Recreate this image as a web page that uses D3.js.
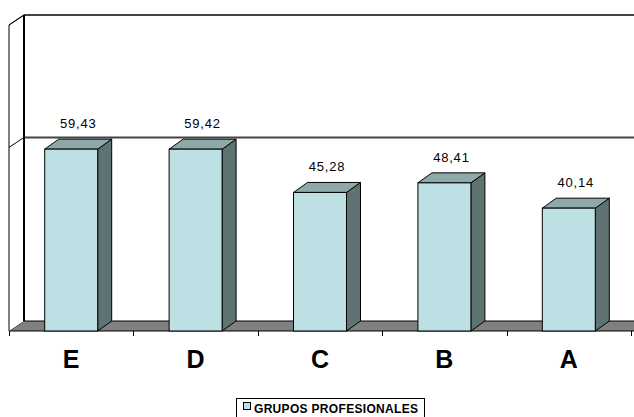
<!DOCTYPE html>
<html>
<head>
<meta charset="utf-8">
<script src="https://cdn.jsdelivr.net/npm/d3@7"></script>
<style>
  html, body { margin: 0; padding: 0; background: #fff; }
  svg { display: block; }
  text { font-family: Arial, "Liberation Sans", sans-serif; }
</style>
</head>
<body>
<svg id="chart" width="634" height="417"></svg>
<script>
// Professional groups and their scores
const categories = ["E", "D", "C", "B", "A"];
const values = [59.43, 59.42, 45.28, 48.41, 40.14];
const valueLabels = ["59,43", "59,42", "45,28", "48,41", "40,14"];
const gridValues = [60];
const seriesName = "GRUPOS PROFESIONALES";

const W = 634, H = 417;
const svg = d3.select("#chart");

// 3D projection: depth offset of the back plane
const depthX = 15, depthY = -10;
const barDepthX = 14, barDepthY = -10;

// Front plane geometry
const x = d3.scaleBand().domain(categories).range([9, 631]).paddingInner(0.574).paddingOuter(0.287);
const y = d3.scaleLinear().domain([0, 100]).range([331, 25]);

const colFront = "#bce0e3", colTop = "#8fa9aa", colSide = "#5f7373";

const g = svg.append("g");

// Floor
const x0 = 9, x1 = 631;
g.append("path")
  .attr("d", `M${x0},${y(0)} L${x0 + depthX},${y(0) + depthY} L${x1 + depthX + 20},${y(0) + depthY} L${x1 + 20},${y(0)} Z`)
  .attr("fill", "#808080").attr("stroke", "#000").attr("stroke-width", 1);

// Left wall
g.append("path")
  .attr("d", `M${x0},${y(0)} L${x0},${y(100)} L${x0 + depthX},${y(100) + depthY} L${x0 + depthX},${y(0) + depthY}`)
  .attr("fill", "#fff").attr("stroke", "#000").attr("stroke-width", 1);

// Back wall top edge and gridlines
[100, ...gridValues].forEach(v => {
  const yb = y(v) + depthY;
  g.append("line").attr("x1", x0 + depthX).attr("x2", W + 10).attr("y1", yb).attr("y2", yb)
    .attr("stroke", "#444").attr("stroke-width", 2);
  g.append("line").attr("x1", x0).attr("y1", y(v)).attr("x2", x0 + depthX).attr("y2", yb)
    .attr("stroke", "#000").attr("stroke-width", 1);
});

// Back edge of the left wall
g.append("line").attr("x1", x0 + depthX).attr("x2", x0 + depthX)
  .attr("y1", y(100) + depthY).attr("y2", y(0) + depthY)
  .attr("stroke", "#000").attr("stroke-width", 2);

// Category tick marks along the front floor edge
const step = x.step();
d3.range(categories.length + 1).forEach(i => {
  const tx = Math.round(x0 + i * step) + 0.5;
  g.append("line").attr("x1", tx).attr("x2", tx).attr("y1", y(0)).attr("y2", y(0) + 5)
    .attr("stroke", "#000").attr("stroke-width", 1);
});

// Bars
const bars = g.selectAll("g.bar").data(categories.map((c, i) => ({ c, v: values[i], label: valueLabels[i] })))
  .enter().append("g").attr("class", "bar");

bars.each(function(d) {
  const sel = d3.select(this);
  const bx = x(d.c), bw = x.bandwidth();
  const yt = y(d.v), yb = y(0);
  // side face
  sel.append("path")
    .attr("d", `M${bx + bw},${yb} L${bx + bw},${yt} L${bx + bw + barDepthX},${yt + barDepthY} L${bx + bw + barDepthX},${yb + barDepthY} Z`)
    .attr("fill", colSide).attr("stroke", "#000").attr("stroke-width", 1).attr("stroke-linejoin", "round");
  // top face
  sel.append("path")
    .attr("d", `M${bx},${yt} L${bx + barDepthX},${yt + barDepthY} L${bx + bw + barDepthX},${yt + barDepthY} L${bx + bw},${yt} Z`)
    .attr("fill", colTop).attr("stroke", "#000").attr("stroke-width", 1).attr("stroke-linejoin", "round");
  // front face
  sel.append("rect").attr("x", bx).attr("y", yt).attr("width", bw).attr("height", yb - yt)
    .attr("fill", colFront).attr("stroke", "#000").attr("stroke-width", 1);
  // value label
  sel.append("text")
    .attr("x", bx + bw / 2 + barDepthX / 2)
    .attr("y", yt + barDepthY - 11)
    .attr("text-anchor", "middle")
    .attr("font-size", 13)
    .attr("letter-spacing", 0.8)
    .attr("fill", "#000")
    .text(d.label);
});

// Category labels
g.selectAll("text.cat").data(categories).enter().append("text")
  .attr("class", "cat")
  .attr("x", d => x(d) + x.bandwidth() / 2)
  .attr("y", 368)
  .attr("text-anchor", "middle")
  .attr("font-size", 25)
  .attr("font-weight", "bold")
  .attr("fill", "#000")
  .text(d => d);

// Legend
const lg = svg.append("g");
lg.append("rect").attr("x", 236.5).attr("y", 398.5).attr("width", 188).attr("height", 30)
  .attr("fill", "#fff").attr("stroke", "#000").attr("stroke-width", 1);
lg.append("rect").attr("x", 243.5).attr("y", 402.5).attr("width", 7).attr("height", 7)
  .attr("fill", colFront).attr("stroke", "#000").attr("stroke-width", 1);
lg.append("text").attr("x", 254).attr("y", 412.5)
  .attr("font-size", 12).attr("font-weight", "bold")
  .attr("textLength", 164).attr("lengthAdjust", "spacing")
  .text(seriesName);
</script>
</body>
</html>
